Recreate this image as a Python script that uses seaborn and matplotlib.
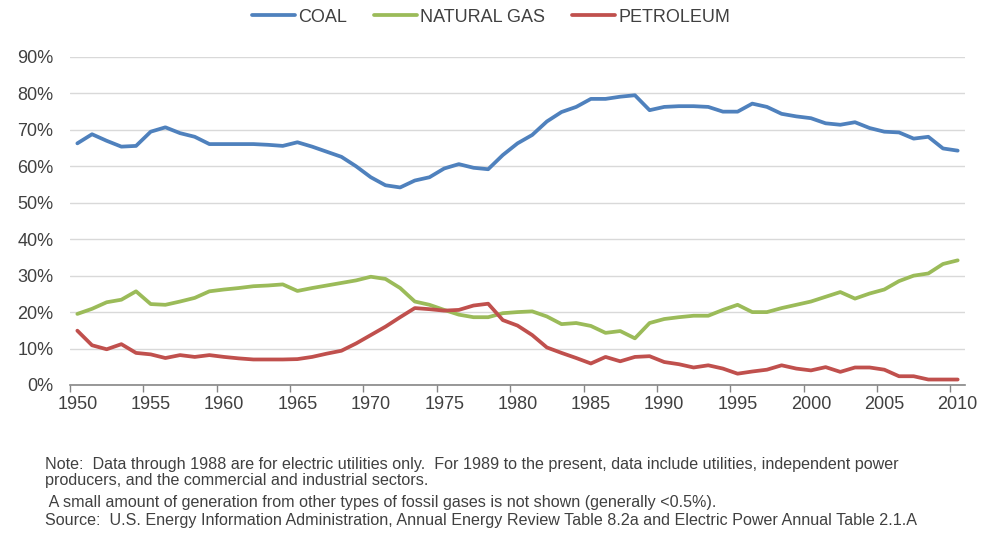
import numpy as np
import pandas as pd
import seaborn as sns
import matplotlib.pyplot as plt
from matplotlib.ticker import PercentFormatter

sns.set_style("white")
plt.rcParams["font.family"] = ["Liberation Sans", "DejaVu Sans"]

years = list(range(1950, 2011))

coal = [66.3, 68.8, 67.0, 65.4, 65.6, 69.5, 70.7, 69.1, 68.1, 66.1,
        66.1, 66.1, 66.1, 65.9, 65.6, 66.6, 65.4, 64.0, 62.6, 60.0,
        57.0, 54.8, 54.2, 56.1, 57.0, 59.4, 60.6, 59.6, 59.2, 63.1,
        66.3, 68.6, 72.3, 74.9, 76.3, 78.5, 78.5, 79.1, 79.5, 75.4,
        76.3, 76.5, 76.5, 76.3, 75.0, 75.0, 77.2, 76.3, 74.4, 73.7,
        73.2, 71.8, 71.4, 72.1, 70.5, 69.5, 69.3, 67.6, 68.1, 64.9, 64.3]

natural_gas = [19.5, 20.9, 22.7, 23.4, 25.7, 22.2, 22.0, 22.9, 23.9, 25.7,
               26.2, 26.6, 27.1, 27.3, 27.6, 25.8, 26.6, 27.3, 28.0, 28.7,
               29.7, 29.1, 26.6, 22.9, 22.0, 20.6, 19.3, 18.6, 18.6, 19.7,
               20.0, 20.2, 18.8, 16.7, 17.0, 16.2, 14.3, 14.8, 12.8, 17.0,
               18.1, 18.6, 19.0, 19.0, 20.6, 22.0, 20.0, 20.0, 21.1, 22.0,
               22.9, 24.2, 25.5, 23.7, 25.1, 26.2, 28.5, 30.0, 30.6, 33.2, 34.2]

petroleum = [14.9, 10.9, 9.8, 11.2, 8.8, 8.4, 7.4, 8.2, 7.7, 8.2,
             7.7, 7.3, 7.0, 7.0, 7.0, 7.1, 7.7, 8.6, 9.4, 11.4,
             13.7, 16.0, 18.6, 21.1, 20.8, 20.4, 20.6, 21.8, 22.3, 17.8,
             16.3, 13.7, 10.3, 8.8, 7.4, 5.9, 7.7, 6.5, 7.7, 7.9,
             6.3, 5.7, 4.8, 5.4, 4.5, 3.1, 3.7, 4.2, 5.4, 4.5,
             4.0, 4.9, 3.6, 4.8, 4.8, 4.2, 2.4, 2.4, 1.5, 1.5, 1.5]

sources = ["COAL", "NATURAL GAS", "PETROLEUM"]
colors = ["#4F81BD", "#9BBB59", "#C0504D"]

frame = pd.DataFrame({
    "year": years * 3,
    "share": coal + natural_gas + petroleum,
    "source": [s for s in sources for _ in years],
})

fig = plt.figure(figsize=(9.82, 5.33), dpi=100)
ax = fig.add_axes([0.0713, 0.2777, 0.9114, 0.6154])

sns.lineplot(data=frame, x="year", y="share", hue="source",
             palette=dict(zip(sources, colors)), linewidth=2.7, ax=ax,
             legend=True)

ax.set_xlim(1949.5, 2010.5)
ax.set_ylim(0, 90)
ax.set_yticks(range(0, 91, 10))
ax.yaxis.set_major_formatter(PercentFormatter(decimals=0))
ax.set_xticks(range(1950, 2011, 5))
ax.set_xticks(np.arange(1949.5, 2010, 5), minor=True)
ax.grid(axis="y", color="#D9D9D9", linewidth=1)
ax.set_axisbelow(True)
for side in ["left", "top", "right"]:
    ax.spines[side].set_visible(False)
ax.spines["bottom"].set_color("#868686")
ax.spines["bottom"].set_linewidth(1.2)

ax.tick_params(axis="y", length=0, pad=12, labelsize=13, labelcolor="#404040")
ax.tick_params(axis="x", which="major", length=0, pad=8, labelsize=13,
               labelcolor="#404040")
ax.tick_params(axis="x", which="minor", length=5, width=1, color="#868686",
               bottom=True)
ax.set_xlabel("")
ax.set_ylabel("")

handles, labels = ax.get_legend_handles_labels()
ax.get_legend().remove()
fig.legend(handles, labels, loc="center", bbox_to_anchor=(0.5, 0.968), ncol=3,
           frameon=False, fontsize=13, handlelength=2.4, handletextpad=0.15,
           columnspacing=1.5, labelcolor="#404040")

notes = [
    "Note:  Data through 1988 are for electric utilities only.  For 1989 to the present, data include utilities, independent power",
    "producers, and the commercial and industrial sectors.",
    " A small amount of generation from other types of fossil gases is not shown (generally <0.5%).",
    "Source:  U.S. Energy Information Administration, Annual Energy Review Table 8.2a and Electric Power Annual Table 2.1.A",
]
note_y = [465, 481, 503, 521]
for text, y in zip(notes, note_y):
    fig.text(45 / 982, 1 - y / 533, text, fontsize=11.6, color="#404040",
             va="center", ha="left")

fig.savefig("out.png", dpi=100)
plt.close(fig)
